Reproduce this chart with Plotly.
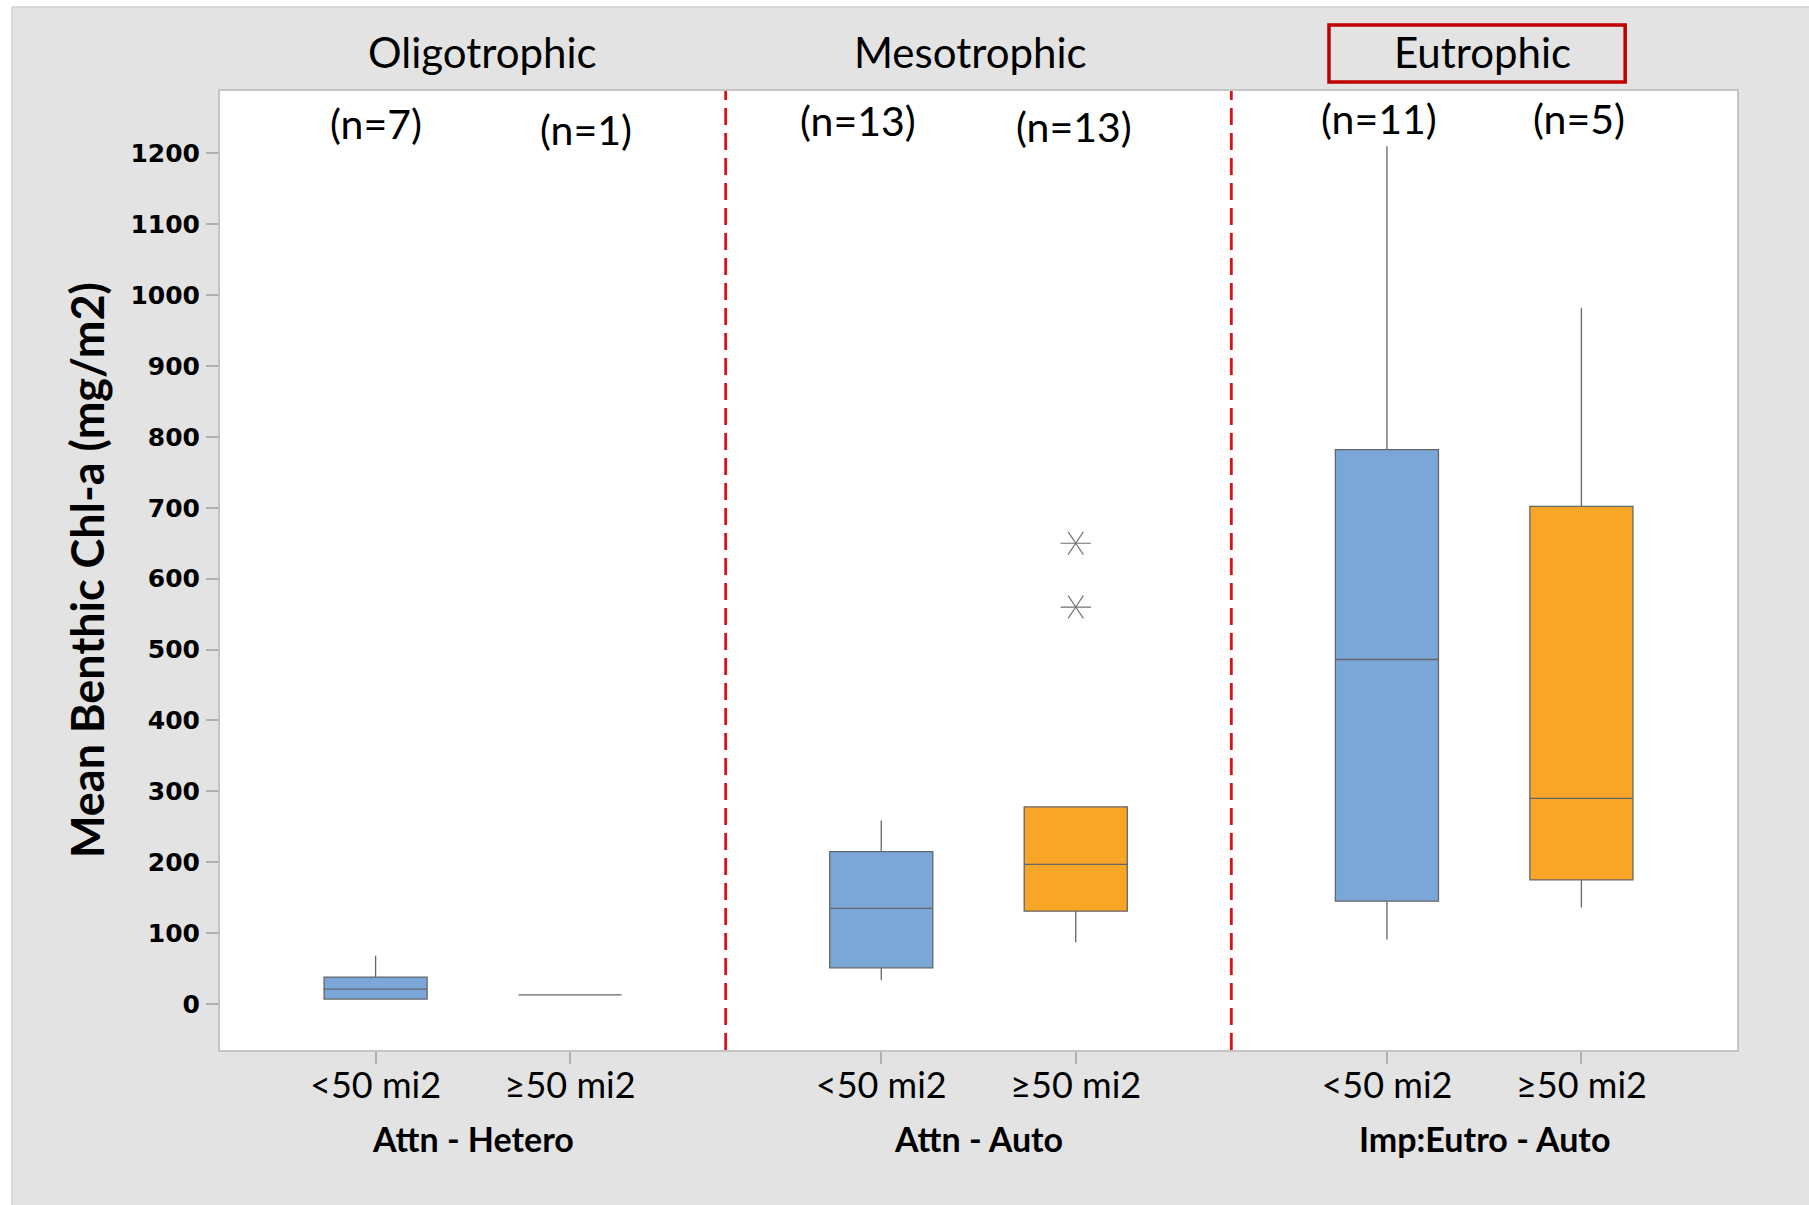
import plotly.graph_objects as go

# ---------------- data ----------------
trophic_states = ["Oligotrophic", "Mesotrophic", "Eutrophic"]
group_labels = ["Attn - Hetero", "Attn - Auto", "Imp:Eutro - Auto"]
size_classes = ["<50 mi2", "≥50 mi2"]
n_counts = [7, 1, 13, 13, 11, 5]
q1_vals = [7, 13, 51, 131, 145, 175]
median_vals = [21, 13, 135, 197, 486, 290]
q3_vals = [38, 13, 215, 278, 782, 702]
lower_vals = [7, 13, 34, 87, 91, 136]
upper_vals = [68, 13, 259, 278, 1210, 982]
outlier_box_index = [3, 3]
outlier_vals = [560, 650]
y_ticks = [0, 100, 200, 300, 400, 500, 600, 700, 800, 900, 1000, 1100, 1200]

# ---------------- layout helpers ----------------
GROUP_STEP = 2.6
positions = [g * GROUP_STEP + j for g in range(len(trophic_states)) for j in range(len(size_classes))]
tick_text = [size_classes[j] for g in range(len(trophic_states)) for j in range(len(size_classes))]
group_centers = [g * GROUP_STEP + 0.5 for g in range(len(trophic_states))]
header_dx = [0.05, -0.04, -0.01]
dividers = [g * GROUP_STEP + 1.8 for g in range(len(trophic_states) - 1)]
n_label_dx = [0.0, 0.08, -0.12, -0.01, -0.04, -0.01]
n_label_y = [1242, 1234, 1246, 1238, 1249, 1249]

BLUE = "#7BA6D8"
ORANGE = "#F8A528"
BOX_LINE = "#666666"
BG = "#E3E3E3"
FONT = "Lato"

fig = go.Figure()

for i, p in enumerate(positions):
    fig.add_trace(go.Box(
        x=[p], q1=[q1_vals[i]], median=[median_vals[i]], q3=[q3_vals[i]],
        lowerfence=[lower_vals[i]], upperfence=[upper_vals[i]],
        width=0.53, whiskerwidth=0,
        fillcolor=BLUE if i % 2 == 0 else ORANGE,
        line=dict(color=BOX_LINE, width=1.3),
        boxpoints=False, showlegend=False, hoverinfo="skip",
    ))

ox = [positions[k] for k in outlier_box_index]
for sym in ["y-left-open", "y-right-open"]:
    fig.add_trace(go.Scatter(
        x=ox, y=outlier_vals, mode="markers",
        marker=dict(symbol=sym, size=19, color="#707070",
                    line=dict(color="#707070", width=1.2)),
        showlegend=False, hoverinfo="skip",
    ))

shapes = []
for d in dividers:
    shapes.append(dict(type="line", xref="x", yref="paper", x0=d, x1=d, y0=0, y1=1,
                       line=dict(color="#E0101A", width=2.8, dash="17px,8px")))
# white outer strips (left & top) with thin border line
shapes += [
    dict(type="rect", xref="paper", yref="paper", x0=-0.2, x1=-0.1371, y0=-0.3, y1=1.3,
         fillcolor="white", line=dict(width=0), layer="below"),
    dict(type="rect", xref="paper", yref="paper", x0=-0.2, x1=1.2, y0=1.0876, y1=1.3,
         fillcolor="white", line=dict(width=0), layer="below"),
    dict(type="line", xref="paper", yref="paper", x0=-0.1371, x1=-0.1371, y0=-0.3, y1=1.0876,
         line=dict(color="#CFCFCF", width=1.5)),
    dict(type="line", xref="paper", yref="paper", x0=-0.1371, x1=1.2, y0=1.0876, y1=1.0876,
         line=dict(color="#CFCFCF", width=1.5)),
]
# red box around "Eutrophic"
shapes.append(dict(type="rect", xref="x", yref="paper", x0=4.902, x1=6.425, y0=1.0094, y1=1.0688,
                   line=dict(color="#C00000", width=3.5), fillcolor="rgba(0,0,0,0)"))

annotations = []
for g, name in enumerate(trophic_states):
    annotations.append(dict(x=group_centers[g] + header_dx[g], xref="x", y=1.0407, yref="paper",
                            text=name, showarrow=False, yanchor="middle",
                            font=dict(family=FONT, size=42, color="black")))
    annotations.append(dict(x=group_centers[g], xref="x", y=-0.0925, yref="paper",
                            text=group_labels[g], showarrow=False, yanchor="middle",
                            font=dict(family=FONT, size=34, color="black", weight="bold")))
for i, p in enumerate(positions):
    annotations.append(dict(x=p + n_label_dx[i], y=n_label_y[i], xref="x", yref="y",
                            text=f"(n={n_counts[i]})", showarrow=False, yanchor="middle",
                            font=dict(family=FONT, size=41, color="black")))
annotations.append(dict(x=-0.088, xref="paper", y=0.5, yref="paper", textangle=-90,
                        text="Mean Benthic Chl-a (mg/m2)", showarrow=False,
                        xanchor="center", yanchor="middle",
                        font=dict(family=FONT, size=45, color="black", weight="bold")))

fig.update_layout(
    width=1809, height=1205,
    margin=dict(l=220, r=72, t=91, b=155),
    paper_bgcolor=BG, plot_bgcolor="white",
    shapes=shapes, annotations=annotations,
    xaxis=dict(range=[-0.8, 7.0], tickvals=positions, ticktext=tick_text,
               showgrid=False, zeroline=False, showline=True, mirror=True,
               linecolor="#C4C4C4", linewidth=2, ticks="outside", ticklen=12,
               tickcolor="#B0B0B0", tickwidth=1.5, ticklabelstandoff=-9,
               tickfont=dict(family=FONT, size=36, color="black")),
    yaxis=dict(range=[-64.9, 1288], tickvals=y_ticks, ticktext=[str(v) for v in y_ticks],
               showgrid=False, zeroline=False, showline=True, mirror=True,
               linecolor="#C4C4C4", linewidth=2, ticks="outside", ticklen=12,
               tickcolor="#B0B0B0", tickwidth=1.5, ticklabelstandoff=1,
               tickfont=dict(family="DejaVu Sans", size=25, color="black", weight="bold")),
)

fig.write_html("out.html", config={"displayModeBar": False},
               post_script="document.body.style.margin='0px';document.body.style.overflow='hidden';")
